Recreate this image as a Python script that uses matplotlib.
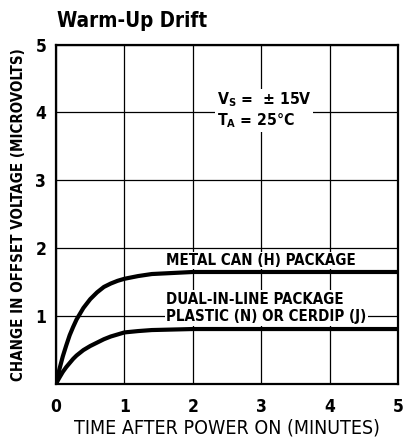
import matplotlib
matplotlib.use("Agg")
import matplotlib.pyplot as plt
from matplotlib import font_manager
from matplotlib.font_manager import FontProperties

# ---- data ----
metal_x = [0, 0.025, 0.05, 0.1, 0.15, 0.2, 0.25, 0.3, 0.4, 0.5, 0.6, 0.7, 0.8, 0.9,
           1.0, 1.2, 1.4, 1.6, 1.8, 2.0, 2.5, 3.0, 4.0, 5.0]
metal_y = [0, 0.11, 0.22, 0.41, 0.57, 0.72, 0.84, 0.95, 1.12, 1.25, 1.35, 1.43, 1.48, 1.52,
           1.55, 1.59, 1.62, 1.63, 1.64, 1.65, 1.65, 1.65, 1.65, 1.65]
dip_x = [0, 0.025, 0.05, 0.1, 0.15, 0.2, 0.25, 0.3, 0.4, 0.5, 0.6, 0.7, 0.8, 0.9,
         1.0, 1.2, 1.4, 1.6, 1.8, 2.0, 2.5, 3.0, 4.0, 5.0]
dip_y = [0, 0.05, 0.095, 0.18, 0.25, 0.31, 0.37, 0.42, 0.50, 0.56, 0.61, 0.66, 0.70, 0.73,
         0.76, 0.78, 0.795, 0.80, 0.805, 0.81, 0.81, 0.81, 0.81, 0.81]
x_ticks = [0, 1, 2, 3, 4, 5]
y_ticks = [1, 2, 3, 4, 5]

# look for a condensed face if one is installed
cond_bold = None
cond_reg = None
for f in font_manager.fontManager.ttflist:
    nm = (f.name + ' ' + str(f.fname)).lower()
    is_cond = ('narrow' in nm or 'condensed' in nm or
               str(f.stretch) in ('condensed', 'semi-condensed', 'extra-condensed'))
    if not is_cond or 'mono' in nm or ('serif' in nm and 'sans' not in nm):
        continue
    w = f.weight if isinstance(f.weight, int) else 700 if 'bold' in str(f.weight) else 400
    if f.style != 'normal':
        continue
    if w >= 700 and cond_bold is None:
        cond_bold = f.fname
    if w < 600 and cond_reg is None:
        cond_reg = f.fname

def fp(size, bold=True):
    path = cond_bold if bold else cond_reg
    if path:
        return FontProperties(fname=path, size=size)
    return FontProperties(family=['Liberation Sans', 'DejaVu Sans'], size=size,
                          weight='bold' if bold else 'normal')

plt.rcParams['font.family'] = ['Liberation Sans', 'DejaVu Sans']

fig = plt.figure(figsize=(4.03, 4.45), dpi=100)
ax = fig.add_axes([0.139, 0.137, 0.849, 0.763])
ax.set_xlim(0, 5)
ax.set_ylim(0, 5)

ax.set_xticks(x_ticks)
ax.set_yticks(y_ticks)
ax.grid(True, color='black', linewidth=0.9)
ax.set_axisbelow(True)
ax.tick_params(axis='x', length=0, pad=10)
ax.tick_params(axis='y', length=0, pad=7)
ax.set_xticklabels([str(t) for t in x_ticks], fontproperties=fp(12.5))
ax.set_yticklabels([str(t) for t in y_ticks], fontproperties=fp(12.5))
for s in ax.spines.values():
    s.set_linewidth(1.6)

ax.plot(metal_x, metal_y, color='black', linewidth=3, solid_capstyle='butt', zorder=3)
ax.plot(dip_x, dip_y, color='black', linewidth=3, solid_capstyle='butt', zorder=3)

bb = dict(facecolor='white', edgecolor='none', pad=1)
ax.text(1.61, 1.82, 'METAL CAN (H) PACKAGE', fontproperties=fp(10.8),
        ha='left', va='center', bbox=bb, zorder=4)
ax.text(1.61, 1.12, 'DUAL-IN-LINE PACKAGE\nPLASTIC (N) OR CERDIP (J)', fontproperties=fp(10.8),
        ha='left', va='center', linespacing=1.2, bbox=bb, zorder=4)
ax.text(2.35, 4.03, r'V$_\mathregular{S}$ =  ± 15V' + '\n' + r'T$_\mathregular{A}$ = 25°C',
        fontproperties=fp(11.3), ha='left', va='center', linespacing=1.15,
        bbox=bb, zorder=4)

ax.set_xlabel('TIME AFTER POWER ON (MINUTES)', fontproperties=fp(14, bold=False), labelpad=2)
ax.set_ylabel('CHANGE IN OFFSET VOLTAGE (MICROVOLTS)', fontproperties=fp(10.8),
              labelpad=7)
tp = fp(14.8)
tp.set_weight('heavy')
fig.text(0.142, 0.952, 'Warm-Up Drift', fontproperties=tp, ha='left', va='center')

fig.savefig('out.png', dpi=100)
